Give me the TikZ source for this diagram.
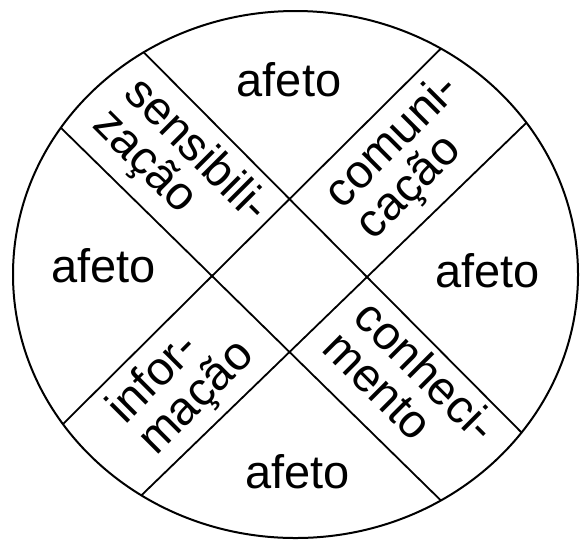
\documentclass[tikz,border=0pt]{standalone}
\usepackage{fontspec}
\setmainfont{Liberation Sans}
\usetikzlibrary{calc}

\begin{document}
\begin{tikzpicture}[
  x=1pt, y=-1pt,
  rim/.style={line width=2pt},
  edge/.style={line width=1.8pt},
  field/.style={font=\fontsize{47}{47}\selectfont, inner sep=0pt},
  strip/.style={font=\fontsize{47}{44}\selectfont, align=left, inner sep=0pt}
]
\useasboundingbox (0,0) rectangle (585,539);

% --- Rim of the disc and corners of the middle square ---
\coordinate (C) at (295.5,274.5);
\coordinate (T) at (289.5,199);
\coordinate (L) at (212,276);
\coordinate (R) at (367,277);
\coordinate (B) at (289.5,352);

% --- Edges of the two crossing strips (cut at the rim) ---
\begin{scope}
  \clip (C) ellipse [x radius=282.5, y radius=263.5];
  \draw[edge] ($(T)!-3!(R)$) -- ($(T)!4!(R)$);
  \draw[edge] ($(L)!-3!(B)$) -- ($(L)!4!(B)$);
  \draw[edge] ($(T)!-3!(L)$) -- ($(T)!4!(L)$);
  \draw[edge] ($(R)!-3!(B)$) -- ($(R)!4!(B)$);
\end{scope}
\draw[rim] (C) ellipse [x radius=282.5, y radius=263.5];

% --- The four fields ---
\node[field] (fTop)   at (289,80)    {afeto};
\node[field] (fLeft)  at (103.5,266) {afeto};
\node[field] (fRight) at (487.5,271) {afeto};
\node[field] (fBot)   at (297.5,472) {afeto};

% --- Labels along the strips ---
\node[strip, rotate=-45] (sUL) at (180,167) {sensibili-\\zação};
\node[strip, rotate=45]  (sUR) at (409,158) {comuni-\\cação};
\node[strip, rotate=45]  (sLL) at (182,383) {infor-\\mação};
\node[strip, rotate=-45] (sLR) at (411,386) {conheci-\\mento};

\end{tikzpicture}
\end{document}
